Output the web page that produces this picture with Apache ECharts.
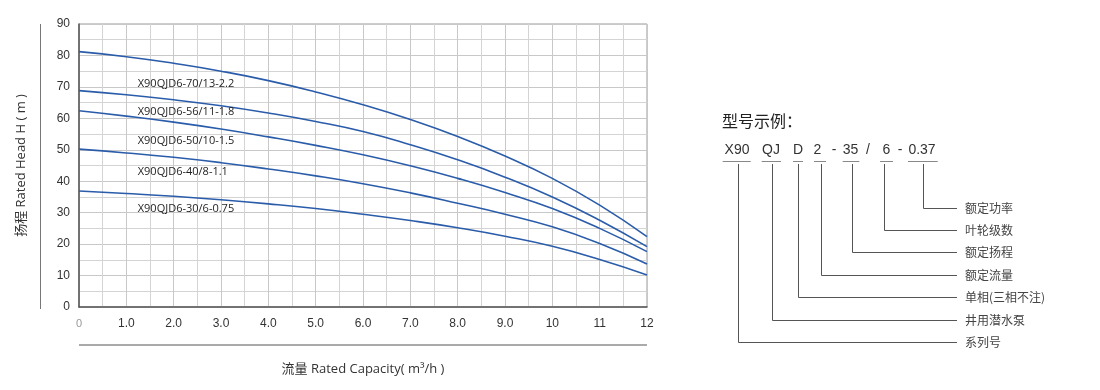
<!DOCTYPE html>
<html><head><meta charset="utf-8">
<script src="https://cdn.jsdelivr.net/npm/echarts@6/dist/echarts.min.js"></script>
<style>html,body{margin:0;padding:0;background:#fff}#c{width:1100px;height:390px}</style>
</head><body><div id="c"></div>
<script>
const flow = [0,1,2,3,4,5,6,7,8,9,10,11,12];
const head70 = [81.2,79.6,77.5,75.0,72.0,68.4,64.3,59.6,54.2,48.0,40.9,32.4,22.4];
const head56 = [68.8,67.5,65.9,64.0,61.7,59.0,55.8,51.6,46.8,41.3,35.0,27.6,19.2];
const head50 = [62.4,60.7,58.8,56.6,54.1,51.4,48.4,44.9,40.9,36.4,31.3,25.0,17.6];
const head40 = [50.2,49.0,47.6,45.9,43.9,41.7,39.2,36.3,33.0,29.5,25.5,20.2,13.7];
const head30 = [36.9,36.1,35.2,34.1,32.8,31.3,29.5,27.5,25.2,22.5,19.3,15.1,10.2];
const modelNames = ['X90QJD6-70/13-2.2','X90QJD6-56/11-1.8','X90QJD6-50/10-1.5','X90QJD6-40/8-1.1','X90QJD6-30/6-0.75'];
const labelAnchors = [[1.23,71.1],[1.23,62.1],[1.23,52.9],[1.23,43.0],[1.23,31.1]];
const codeTokens = ['X90','QJ','D','2','-','35','/','6','-','0.37'];
const codeMeanings = ['额定功率','叶轮级数','额定扬程','额定流量','单相(三相不注)','井用潜水泵','系列号'];

const heads = [head70, head56, head50, head40, head30];
const LAT = 'Liberation Sans, Arial, sans-serif';
const OS = '"Open Sans", "Noto Sans CJK SC", sans-serif';

const series = heads.map((h, i) => ({
  type: 'line', smooth: true, symbol: 'none',
  data: flow.map((f, k) => [f, h[k]]),
  lineStyle: {color: '#2a5caa', width: 1.6},
  z: 5
}));
series.push({
  type: 'scatter', symbol: 'circle', symbolSize: 1,
  itemStyle: {color: 'rgba(0,0,0,0)'},
  data: labelAnchors.map((a, i) => ({value: a, name: modelNames[i]})),
  label: {show: true, position: 'right', distance: 0, formatter: p => p.name,
    color: '#1e1e1e', fontSize: 11, fontFamily: OS, textBorderWidth: 0, opacity: 1},
  silent: true, z: 6
});

// right-side model diagram graphics
const tokX = [737, 771, 798, 817.5, 834, 850.5, 868, 886.5, 900, 922];
const g = [];
g.push({type:'text', left: 722, top: 113, style:{text:'型号示例：', font:'16px "Noto Sans CJK SC"', fill:'#222'}});
codeTokens.forEach((t, i) => {
  g.push({type:'text', x: tokX[i], y: 150, style:{text:t, font:'14px '+LAT, fill:'#333', textAlign:'center', textVerticalAlign:'middle'}});
});
const unders = [[722.7,750.7],[761.7,781],[793,803],[814,826],[842.7,859.3],[880,893],[908,937.7]];
unders.forEach(u => g.push({type:'line', shape:{x1:u[0], y1:161.5, x2:u[1], y2:161.5}, style:{stroke:'#888', lineWidth:1}}));
const vx = [922.7, 884.3, 851.7, 820.7, 797.7, 772.3, 737.7];
const hy = [208.5, 230.5, 252.5, 275.5, 297.5, 320.5, 342.5];
vx.forEach((x, i) => {
  g.push({type:'polyline', shape:{points:[[Math.round(x)+0.5,164],[Math.round(x)+0.5,hy[i]],[957,hy[i]]]}, style:{stroke:'#555', lineWidth:1, fill:null}});
  g.push({type:'text', x: 965, y: hy[i], style:{text: codeMeanings[i], font:'12px "Noto Sans CJK SC"', fill:'#444', textVerticalAlign:'middle'}});
});
// decorative frame lines of the chart
g.push({type:'line', shape:{x1:40.5, y1:24, x2:40.5, y2:309}, style:{stroke:'#777', lineWidth:1}});
g.push({type:'line', shape:{x1:79, y1:345, x2:647, y2:345}, style:{stroke:'#aaa', lineWidth:2}});

const chart = echarts.init(document.getElementById('c'), null, {renderer:'canvas'});
chart.setOption({
  animation: false,
  backgroundColor: '#fff',
  grid: {left: 79, right: 453, top: 24, bottom: 83, show: true, borderColor: '#9a9a9a', borderWidth: 1},
  xAxis: {
    type: 'value', min: 0, max: 12, interval: 1,
    name: '流量 Rated Capacity( m³/h )', nameLocation: 'middle', nameGap: 56,
    nameTextStyle: {fontSize: 13, color: '#333', fontFamily: OS},
    axisLine: {show: true, lineStyle: {color: '#555', width: 1.5}},
    axisTick: {show: false},
    axisLabel: {margin: 11, fontSize: 12, color: '#333', fontFamily: LAT,
      formatter: v => v === 0 ? '{z|0}' : (v < 10 ? v.toFixed(1) : String(v)),
      rich: {z: {fontSize: 11, color: '#999', fontFamily: LAT}}},
    splitLine: {show: true, lineStyle: {color: '#c8c8c8', width: 1}},
    minorTick: {show: false, splitNumber: 2},
    minorSplitLine: {show: true, lineStyle: {color: '#d4d4d4', width: 1}}
  },
  yAxis: {
    type: 'value', min: 0, max: 90, interval: 10,
    name: '扬程 Rated Head H ( m )', nameLocation: 'middle', nameGap: 51, nameRotate: 90,
    nameTextStyle: {fontSize: 13, color: '#333', fontFamily: OS},
    axisLine: {show: true, lineStyle: {color: '#555', width: 1.5}},
    axisTick: {show: false},
    axisLabel: {margin: 9, fontSize: 12, color: '#333', fontFamily: LAT},
    splitLine: {show: true, lineStyle: {color: '#c8c8c8', width: 1}},
    minorTick: {show: false, splitNumber: 2},
    minorSplitLine: {show: true, lineStyle: {color: '#d4d4d4', width: 1}}
  },
  series: series,
  graphic: g
});
</script></body></html>
